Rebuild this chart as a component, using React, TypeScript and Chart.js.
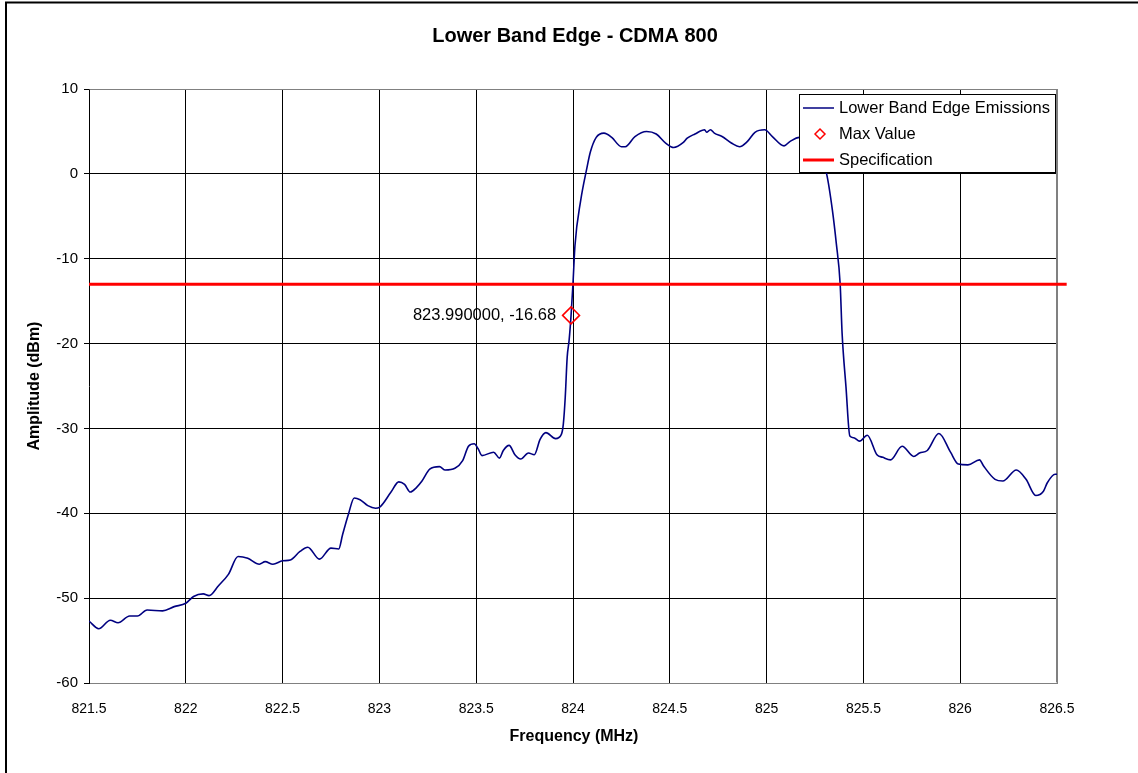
import React, { useEffect, useRef } from 'react';
import { Chart, registerables } from 'chart.js';

Chart.register(...registerables);

const titleText = 'Lower Band Edge - CDMA 800';
const xTitle = 'Frequency (MHz)';
const yTitle = 'Amplitude (dBm)';

const freqMHz = [
  821.50, 821.55, 821.61, 821.65, 821.71, 821.75, 821.80, 821.88, 821.94, 822.00,
  822.04, 822.09, 822.12, 822.17, 822.22, 822.27, 822.32, 822.38, 822.41, 822.45,
  822.50, 822.54, 822.59, 822.63, 822.69, 822.75, 822.79, 822.81, 822.84, 822.87,
  822.90, 822.94, 822.98, 823.00, 823.06, 823.10, 823.13, 823.16, 823.19, 823.22,
  823.26, 823.31, 823.34, 823.39, 823.43, 823.46, 823.49, 823.51, 823.53, 823.59,
  823.62, 823.64, 823.67, 823.70, 823.73, 823.77, 823.80, 823.83, 823.86, 823.91,
  823.94, 823.95, 823.96, 823.97, 823.98, 823.99, 824.00, 824.01, 824.04, 824.07,
  824.09, 824.12, 824.16, 824.20, 824.25, 824.27, 824.32, 824.38, 824.43, 824.48,
  824.52, 824.57, 824.59, 824.63, 824.68, 824.69, 824.71, 824.73, 824.77, 824.82,
  824.86, 824.90, 824.94, 824.99, 825.03, 825.09, 825.12, 825.17, 825.22, 825.27,
  825.31, 825.34, 825.36, 825.38, 825.39, 825.41, 825.43, 825.45, 825.48, 825.52,
  825.57, 825.60, 825.64, 825.70, 825.76, 825.79, 825.83, 825.89, 825.95, 825.99,
  826.04, 826.10, 826.12, 826.18, 826.22, 826.29, 826.34, 826.39, 826.43, 826.45,
  826.49, 826.50,
];

const amplitudeDbm = [
  -52.7, -53.6, -52.6, -52.9, -52.1, -52.1, -51.4, -51.5, -51.0, -50.6,
  -49.8, -49.5, -49.7, -48.5, -47.2, -45.1, -45.3, -46.0, -45.7, -46.0,
  -45.6, -45.5, -44.5, -44.0, -45.4, -44.1, -44.2, -42.5, -40.1, -38.2,
  -38.4, -39.1, -39.4, -39.3, -37.5, -36.3, -36.6, -37.5, -37.0, -36.2,
  -34.8, -34.5, -34.9, -34.7, -33.8, -32.1, -31.8, -32.4, -33.2, -32.8,
  -33.5, -32.6, -32.0, -33.1, -33.6, -32.9, -33.1, -31.3, -30.5, -31.2,
  -30.7, -29.5, -26.3, -21.6, -19.6, -16.68, -12.9, -8.5, -3.1, 0.5,
  2.6, 4.3, 4.8, 4.3, 3.2, 3.2, 4.4, 5.0, 4.7, 3.6,
  3.1, 3.7, 4.2, 4.7, 5.2, 4.9, 5.2, 4.8, 4.4, 3.6,
  3.2, 3.8, 4.9, 5.2, 4.4, 3.3, 3.8, 4.3, 4.0, 2.5,
  0.0, -4.3, -8.2, -13.0, -18.8, -25.1, -30.9, -31.1, -31.5, -30.8,
  -33.1, -33.4, -33.7, -32.1, -33.3, -32.9, -32.6, -30.6, -32.8, -34.2,
  -34.3, -33.7, -34.4, -36.0, -36.2, -34.9, -36.0, -37.9, -37.4, -36.4,
  -35.4, -35.4,
];

const maxFreq = [823.99];
const maxAmp = [-16.68];
const maxLabel = '823.990000, -16.68';

const specFreq = [821.5, 826.55];
const specAmp = [-13, -13];

const xTicks = [821.5, 822, 822.5, 823, 823.5, 824, 824.5, 825, 825.5, 826, 826.5];
const yTicks = [10, 0, -10, -20, -30, -40, -50, -60];

const legendLabels = ['Lower Band Edge Emissions', 'Max Value', 'Specification'];

const FONT = '"Liberation Sans", Arial, sans-serif';
const NAVY = '#000080';
const RED = '#FF0000';
const GRAY = '#808080';

const decorPlugin = {
  id: 'decor',
  beforeDatasetsDraw(chart: any) {
    const ctx = chart.ctx;
    const a = chart.chartArea;
    ctx.save();
    ctx.strokeStyle = GRAY;
    ctx.lineWidth = 1;
    ctx.beginPath();
    ctx.moveTo(Math.round(a.left) + 0.5, Math.round(a.top) + 0.5);
    ctx.lineTo(Math.round(a.right) - 0.5, Math.round(a.top) + 0.5);
    ctx.lineTo(Math.round(a.right) - 0.5, Math.round(a.bottom) - 0.5);
    ctx.stroke();
    ctx.restore();
  },
  afterDraw(chart: any) {
    const ctx = chart.ctx;
    const a = chart.chartArea;
    const xs = chart.scales.x;
    const ys = chart.scales.y;
    ctx.save();

    // outer frame
    ctx.strokeStyle = '#000';
    ctx.lineWidth = 2;
    ctx.beginPath();
    ctx.moveTo(6, 773);
    ctx.lineTo(6, 2.5);
    ctx.lineTo(1138, 2.5);
    ctx.stroke();

    // title
    ctx.fillStyle = '#000';
    ctx.textAlign = 'center';
    ctx.textBaseline = 'middle';
    ctx.font = 'bold 20px ' + FONT;
    ctx.fillText(titleText, 575, 36);

    // axis titles
    ctx.font = 'bold 16px ' + FONT;
    ctx.fillText(xTitle, 574, 737);
    ctx.save();
    ctx.translate(35, (a.top + a.bottom) / 2);
    ctx.rotate(-Math.PI / 2);
    ctx.fillText(yTitle, 0, 0);
    ctx.restore();

    // max label
    ctx.font = '16.5px ' + FONT;
    ctx.textAlign = 'right';
    ctx.fillText(maxLabel, xs.getPixelForValue(maxFreq[0]) - 15, ys.getPixelForValue(maxAmp[0]));

    // legend
    const lx = 799.5, ly = 94.5, lw = 256, lh = 78;
    ctx.fillStyle = '#fff';
    ctx.fillRect(lx, ly, lw, lh);
    ctx.strokeStyle = '#000';
    ctx.lineWidth = 1;
    ctx.strokeRect(lx, ly, lw, lh);
    const rows = [108, 134, 160];
    ctx.strokeStyle = NAVY;
    ctx.lineWidth = 1.5;
    ctx.beginPath();
    ctx.moveTo(803, rows[0]);
    ctx.lineTo(834, rows[0]);
    ctx.stroke();
    ctx.strokeStyle = RED;
    ctx.lineWidth = 1.5;
    ctx.beginPath();
    ctx.moveTo(820 - 5, rows[1]);
    ctx.lineTo(820, rows[1] - 5);
    ctx.lineTo(820 + 5, rows[1]);
    ctx.lineTo(820, rows[1] + 5);
    ctx.closePath();
    ctx.stroke();
    ctx.lineWidth = 3;
    ctx.beginPath();
    ctx.moveTo(803, rows[2]);
    ctx.lineTo(834, rows[2]);
    ctx.stroke();
    ctx.fillStyle = '#000';
    ctx.textAlign = 'left';
    ctx.font = '16.5px ' + FONT;
    legendLabels.forEach((t, i) => ctx.fillText(t, 839, rows[i]));

    ctx.restore();
  },
};

export default function App() {
  const ref = useRef<HTMLCanvasElement | null>(null);

  useEffect(() => {
    if (!ref.current) return;
    const chart = new Chart(ref.current, {
      type: 'line',
      data: {
        datasets: [
          {
            label: legendLabels[0],
            data: freqMHz.map((x, i) => ({ x, y: amplitudeDbm[i] })),
            borderColor: NAVY,
            borderWidth: 1.6,
            pointRadius: 0,
            cubicInterpolationMode: 'monotone',
            order: 2,
          },
          {
            label: legendLabels[1],
            data: maxFreq.map((x, i) => ({ x, y: maxAmp[i] })),
            showLine: false,
            pointStyle: 'rectRot',
            pointRadius: 8.5,
            pointBorderColor: RED,
            pointBackgroundColor: 'rgba(255,255,255,0)',
            pointBorderWidth: 1.5,
            borderColor: RED,
            order: 0,
          },
          {
            label: legendLabels[2],
            data: specFreq.map((x, i) => ({ x, y: specAmp[i] })),
            borderColor: RED,
            borderWidth: 3,
            pointRadius: 0,
            clip: false,
            order: 1,
          },
        ],
      },
      options: {
        animation: false,
        responsive: false,
        maintainAspectRatio: false,
        layout: { padding: { top: 89, right: 81, bottom: 0, left: 0 } },
        plugins: {
          legend: { display: false },
          title: { display: false },
          tooltip: { enabled: false },
        },
        scales: {
          x: {
            type: 'linear',
            min: 821.5,
            max: 826.5,
            afterBuildTicks: (s: any) => {
              s.ticks = xTicks.map((v) => ({ value: v }));
            },
            afterFit: (s: any) => {
              s.height = 90;
            },
            ticks: {
              callback: (v: any) => String(v),
              color: '#000',
              font: { family: FONT, size: 14 },
              padding: 18,
              maxRotation: 0,
              autoSkip: false,
            },
            grid: {
              color: (c: any) =>
                c.tick && c.tick.value === 826.5 ? GRAY : c.tick && c.tick.value === 821.5 ? 'rgba(0,0,0,0)' : '#000',
              lineWidth: 1,
              drawTicks: false,
            },
            border: { color: GRAY, width: 1 },
          },
          y: {
            type: 'linear',
            min: -60,
            max: 10,
            afterBuildTicks: (s: any) => {
              s.ticks = yTicks.map((v) => ({ value: v }));
            },
            afterFit: (s: any) => {
              s.width = 89;
            },
            ticks: {
              callback: (v: any) => String(v),
              color: '#000',
              font: { family: FONT, size: 15 },
              padding: 6,
            },
            grid: {
              color: (c: any) =>
                c.tick && (c.tick.value === 10 || c.tick.value === -60) ? GRAY : '#000',
              tickColor: '#000',
              tickLength: 5,
              lineWidth: 1,
            },
            border: { color: '#000', width: 1 },
          },
        },
      },
      plugins: [decorPlugin],
    } as any);
    return () => chart.destroy();
  }, []);

  return (
    <div style={{ position: 'absolute', left: 0, top: 0, width: 1138, height: 773, background: '#fff' }}>
      <canvas ref={ref} width={1138} height={773} style={{ width: 1138, height: 773, display: 'block' }} />
    </div>
  );
}
